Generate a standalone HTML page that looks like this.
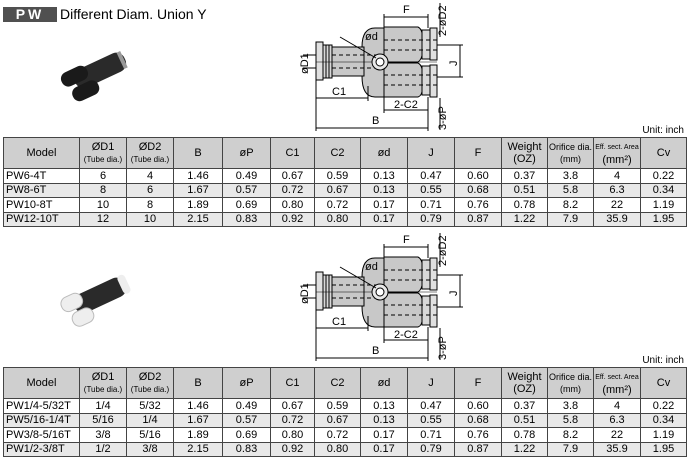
<!DOCTYPE html>
<html><head><meta charset="utf-8"><style>
body{margin:0;width:688px;height:467px;background:#fff;position:relative;overflow:hidden;font-family:"Liberation Sans",Arial,sans-serif;color:#000}
.abs{position:absolute}
table{position:absolute;left:3px;border-collapse:collapse;table-layout:fixed;width:683px;font-size:11px}
td{border:1px solid #444;text-align:center;padding:0;line-height:12px;white-space:nowrap;overflow:hidden}
tr.h td{background:#cfcfcf;height:30px;font-size:11px}
tr.r td{height:13.5px}
tr.g td{background:#e8e8e8}
td.m{text-align:left;padding-left:2px}
.s{font-size:8px}
.u{font-size:10px;right:4px}
</style></head><body>
<div class="abs" style="left:3px;top:7px;width:54px;height:15px;background:#505050;color:#fff;font-weight:bold;font-size:14px;line-height:15px;text-align:center;letter-spacing:3px">PW</div>
<div class="abs" style="left:60px;top:6px;font-size:14px;line-height:16px">Different Diam. Union Y</div>

<svg class="abs" style="left:0;top:0" width="688" height="467">
<defs>
<g id="draw" stroke="#000" stroke-width="1" fill="none">
<path d="M362 47 Q362 28 375 28 L384 28 L384 97 L375 97 Q362 97 362 76 Z" fill="#c8c8c8"/>
<rect x="332" y="47" width="32" height="29" fill="#c8c8c8"/>
<rect x="323" y="45" width="9" height="33" fill="#d8d8d8"/>
<line x1="326" y1="45" x2="326" y2="78"/><line x1="329" y1="45" x2="329" y2="78"/>
<rect x="316" y="42" width="7" height="38" fill="#e0e0e0"/>
<path d="M384 27 L418 27 Q424 30 422 44 Q424 58 418 62 L384 62 Z" fill="#c8c8c8"/>
<path d="M384 63 L418 63 Q424 66 422 80 Q424 95 418 97 L384 97 Z" fill="#c8c8c8"/>
<rect x="422" y="30" width="8" height="29" fill="#d8d8d8"/>
<rect x="422" y="66" width="8" height="29" fill="#d8d8d8"/>
<rect x="430" y="28" width="7" height="32" fill="#e0e0e0"/>
<rect x="430" y="65" width="7" height="32" fill="#e0e0e0"/>
<g stroke-dasharray="4 3">
<line x1="332" y1="55" x2="384" y2="55"/><line x1="332" y1="68" x2="384" y2="68"/>
<line x1="384" y1="40" x2="437" y2="40"/><line x1="384" y1="50" x2="437" y2="50"/>
<line x1="384" y1="75" x2="437" y2="75"/><line x1="384" y1="85" x2="437" y2="85"/>
</g>
<line x1="316" y1="62" x2="437" y2="62" stroke-width="0.6"/>
<circle cx="380" cy="62" r="8" fill="#e8e8e8"/><circle cx="380" cy="62" r="4" fill="#fff"/>
<line x1="340" y1="37" x2="376" y2="58"/>
<line x1="384" y1="17" x2="428" y2="17"/><line x1="384" y1="14" x2="384" y2="28"/><line x1="428" y1="14" x2="428" y2="28"/>
<line x1="316" y1="98" x2="368" y2="98"/><line x1="368" y1="86" x2="368" y2="101"/>
<line x1="384" y1="110" x2="428" y2="110"/><line x1="384" y1="97" x2="384" y2="113"/><line x1="428" y1="97" x2="428" y2="113"/>
<line x1="316" y1="128" x2="428" y2="128"/><line x1="316" y1="80" x2="316" y2="131"/><line x1="428" y1="113" x2="428" y2="131"/>
<line x1="460" y1="45" x2="460" y2="77"/><line x1="437" y1="45" x2="463" y2="45"/><line x1="437" y1="77" x2="463" y2="77"/>
<line x1="440" y1="3" x2="440" y2="37"/><line x1="440" y1="98" x2="440" y2="130"/>
<line x1="303" y1="55" x2="316" y2="55"/><line x1="303" y1="68" x2="316" y2="68"/>
</g>
</defs>
<use href="#draw"/>
<use href="#draw" y="230"/>
<g font-size="11" font-family="Liberation Sans,sans-serif" fill="#000">
<text x="403" y="13">F</text><text x="332" y="95">C1</text><text x="394" y="108">2-C2</text><text x="372" y="124">B</text><text x="365" y="40">ød</text>
<text transform="translate(446,36) rotate(-90)">2-øD2</text><text transform="translate(446,130) rotate(-90)">3-øP</text>
<text transform="translate(457,66) rotate(-90)">J</text><text transform="translate(308,74) rotate(-90)">øD1</text>
<g transform="translate(0,230)">
<text x="403" y="13">F</text><text x="332" y="95">C1</text><text x="394" y="108">2-C2</text><text x="372" y="124">B</text><text x="365" y="40">ød</text>
<text transform="translate(446,36) rotate(-90)">2-øD2</text><text transform="translate(446,130) rotate(-90)">3-øP</text>
<text transform="translate(457,66) rotate(-90)">J</text><text transform="translate(308,74) rotate(-90)">øD1</text>
</g></g>
<g transform="translate(75,82) rotate(-25)"><rect x="0" y="-10" width="55" height="20" rx="9" fill="#2a2a2a"/><rect x="-12" y="-13" width="28" height="15" rx="7" fill="#1a1a1a"/><rect x="-8" y="5" width="28" height="15" rx="7" fill="#1a1a1a"/><rect x="50" y="-9" width="4" height="18" fill="#999"/></g>
<g transform="translate(75,307) rotate(-25)"><rect x="0" y="-10" width="55" height="20" rx="9" fill="#2a2a2a"/><rect x="-12" y="-13" width="22" height="15" rx="7" fill="#eee" stroke="#bbb"/><rect x="-8" y="5" width="22" height="15" rx="7" fill="#eee" stroke="#bbb"/><rect x="50" y="-10" width="8" height="20" rx="4" fill="#eee"/></g>
</svg>

<div class="abs u" style="top:125px">Unit: inch</div>
<table style="top:137px">
<colgroup><col style="width:76px"><col style="width:47px"><col style="width:47px"><col style="width:49px"><col style="width:48px"><col style="width:44px"><col style="width:46px"><col style="width:47px"><col style="width:47px"><col style="width:47px"><col style="width:46px"><col style="width:46px"><col style="width:47px"><col style="width:46px"></colgroup>
<tr class="h"><td>Model</td><td>ØD1<br><span class="s">(Tube dia.)</span></td><td>ØD2<br><span class="s">(Tube dia.)</span></td><td>B</td><td>øP</td><td>C1</td><td>C2</td><td>ød</td><td>J</td><td>F</td><td>Weight<br>(OZ)</td><td style="font-size:9px">Orifice dia.<br>(mm)</td><td><span style="font-size:7px">Eff. sect. Area</span><br>(mm²)</td><td>Cv</td></tr>
<tr class="r"><td class="m">PW6-4T</td><td>6</td><td>4</td><td>1.46</td><td>0.49</td><td>0.67</td><td>0.59</td><td>0.13</td><td>0.47</td><td>0.60</td><td>0.37</td><td>3.8</td><td>4</td><td>0.22</td></tr>
<tr class="r g"><td class="m">PW8-6T</td><td>8</td><td>6</td><td>1.67</td><td>0.57</td><td>0.72</td><td>0.67</td><td>0.13</td><td>0.55</td><td>0.68</td><td>0.51</td><td>5.8</td><td>6.3</td><td>0.34</td></tr>
<tr class="r"><td class="m">PW10-8T</td><td>10</td><td>8</td><td>1.89</td><td>0.69</td><td>0.80</td><td>0.72</td><td>0.17</td><td>0.71</td><td>0.76</td><td>0.78</td><td>8.2</td><td>22</td><td>1.19</td></tr>
<tr class="r g"><td class="m">PW12-10T</td><td>12</td><td>10</td><td>2.15</td><td>0.83</td><td>0.92</td><td>0.80</td><td>0.17</td><td>0.79</td><td>0.87</td><td>1.22</td><td>7.9</td><td>35.9</td><td>1.95</td></tr>
</table>

<div class="abs u" style="top:355px">Unit: inch</div>
<table style="top:367px">
<colgroup><col style="width:76px"><col style="width:47px"><col style="width:47px"><col style="width:49px"><col style="width:48px"><col style="width:44px"><col style="width:46px"><col style="width:47px"><col style="width:47px"><col style="width:47px"><col style="width:46px"><col style="width:46px"><col style="width:47px"><col style="width:46px"></colgroup>
<tr class="h"><td>Model</td><td>ØD1<br><span class="s">(Tube dia.)</span></td><td>ØD2<br><span class="s">(Tube dia.)</span></td><td>B</td><td>øP</td><td>C1</td><td>C2</td><td>ød</td><td>J</td><td>F</td><td>Weight<br>(OZ)</td><td style="font-size:9px">Orifice dia.<br>(mm)</td><td><span style="font-size:7px">Eff. sect. Area</span><br>(mm²)</td><td>Cv</td></tr>
<tr class="r"><td class="m">PW1/4-5/32T</td><td>1/4</td><td>5/32</td><td>1.46</td><td>0.49</td><td>0.67</td><td>0.59</td><td>0.13</td><td>0.47</td><td>0.60</td><td>0.37</td><td>3.8</td><td>4</td><td>0.22</td></tr>
<tr class="r g"><td class="m">PW5/16-1/4T</td><td>5/16</td><td>1/4</td><td>1.67</td><td>0.57</td><td>0.72</td><td>0.67</td><td>0.13</td><td>0.55</td><td>0.68</td><td>0.51</td><td>5.8</td><td>6.3</td><td>0.34</td></tr>
<tr class="r"><td class="m">PW3/8-5/16T</td><td>3/8</td><td>5/16</td><td>1.89</td><td>0.69</td><td>0.80</td><td>0.72</td><td>0.17</td><td>0.71</td><td>0.76</td><td>0.78</td><td>8.2</td><td>22</td><td>1.19</td></tr>
<tr class="r g"><td class="m">PW1/2-3/8T</td><td>1/2</td><td>3/8</td><td>2.15</td><td>0.83</td><td>0.92</td><td>0.80</td><td>0.17</td><td>0.79</td><td>0.87</td><td>1.22</td><td>7.9</td><td>35.9</td><td>1.95</td></tr>
</table>
</body></html>
